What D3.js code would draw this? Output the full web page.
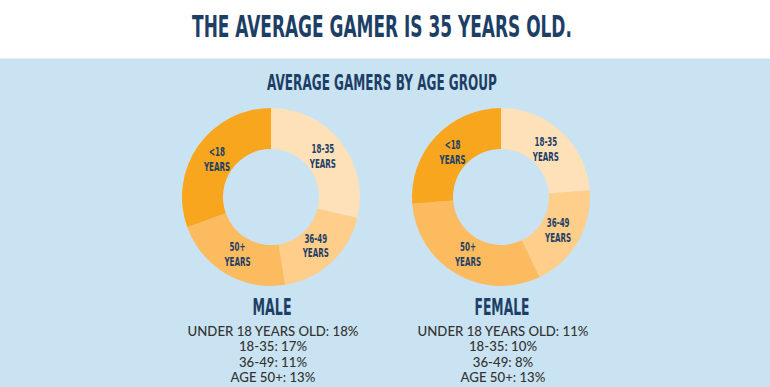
<!DOCTYPE html>
<html>
<head>
<meta charset="utf-8">
<script src="https://cdn.jsdelivr.net/npm/d3@7"></script>
<style>
  body { margin: 0; background: #fff; }
  svg { display: block; }
</style>
</head>
<body>
<svg id="chart"></svg>
<script>
var width = 770, height = 387;

var title = "THE AVERAGE GAMER IS 35 YEARS OLD.";
var subtitle = "AVERAGE GAMERS BY AGE GROUP";

// slice order clockwise from 12 o'clock
var age_groups = ["18-35", "36-49", "50+", "<18"];
var age_labels = [["18-35", "YEARS"], ["36-49", "YEARS"], ["50+", "YEARS"], ["<18", "YEARS"]];
var male_values = [17, 11, 13, 18];
var female_values = [10, 8, 13, 11];
var slice_colors = ["#fee1b8", "#fece8a", "#fdbb5f", "#f7a61e"];

var male_lines = ["UNDER 18 YEARS OLD: 18%", "18-35: 17%", "36-49: 11%", "AGE 50+: 13%"];
var female_lines = ["UNDER 18 YEARS OLD: 11%", "18-35: 10%", "36-49: 8%", "AGE 50+: 13%"];

var head_font = "'DejaVu Sans Condensed', 'Liberation Sans Narrow', sans-serif";
var body_font = "Lato, 'Open Sans', sans-serif";
var navy = "#1d3f66";

var svg = d3.select("#chart")
    .attr("width", width)
    .attr("height", height);

svg.append("rect")
    .attr("width", width)
    .attr("height", height)
    .attr("fill", "#ffffff");

svg.append("rect")
    .attr("y", 59)
    .attr("width", width)
    .attr("height", height - 59)
    .attr("fill", "#cae3f2");

svg.append("line")
    .attr("x1", 0).attr("x2", width)
    .attr("y1", 58.5).attr("y2", 58.5)
    .attr("stroke", "#e3eff7");

// condensed headline text: draw at the origin, then squeeze it to a target width
function headline(x, y, size, txt, target) {
    var t = svg.append("text")
        .attr("text-anchor", "middle")
        .style("font-family", head_font)
        .style("font-weight", "bold")
        .style("font-size", size + "px")
        .style("fill", navy)
        .text(txt);
    var w = t.node().getComputedTextLength();
    t.attr("transform", "translate(" + x + "," + y + ") scale(" + (target / w) + ",1)");
    return t;
}

headline(382, 37, 30, title, 380);
headline(382, 90, 20.5, subtitle, 230);

var pie = d3.pie().sort(null).value(d => d);
var arc = d3.arc().innerRadius(48).outerRadius(89);
var label_arc = d3.arc().innerRadius(66).outerRadius(66);
var cs = d3.scaleOrdinal().domain(age_groups).range(slice_colors);

function draw_donut(cx, values, name, name_width, lines) {
    var g = svg.append("g")
        .attr("transform", "translate(" + cx + ",197)");

    var slices = pie(values);

    g.selectAll("path")
        .data(slices)
        .enter()
        .append("path")
            .attr("d", arc)
            .attr("fill", (d, i) => cs(age_groups[i]));

    var labels = g.selectAll(".lbl")
        .data(slices)
        .enter()
        .append("text")
            .attr("class", "lbl")
            .attr("transform", d => "translate(" + label_arc.centroid(d) + ") scale(0.62,1)")
            .attr("text-anchor", "middle")
            .style("font-family", head_font)
            .style("font-weight", "bold")
            .style("font-size", "12.8px")
            .style("fill", navy);

    labels.selectAll("tspan")
        .data((d, i) => age_labels[i])
        .enter()
        .append("tspan")
            .attr("x", 0)
            .attr("y", (d, j) => j == 0 ? -3 : 12)
            .text(d => d);

    headline(cx + 1, 315, 23, name, name_width);

    svg.append("g")
        .selectAll("text")
        .data(lines)
        .enter()
        .append("text")
            .attr("x", cx + 2)
            .attr("y", (d, i) => 335.5 + i * 15.6)
            .attr("text-anchor", "middle")
            .style("font-family", body_font)
            .style("font-size", "13.2px")
            .style("font-weight", 500)
            .style("fill", "#333333")
            .text(d => d);
}

draw_donut(271, male_values, "MALE", 39, male_lines);
draw_donut(501, female_values, "FEMALE", 55, female_lines);
</script>
</body>
</html>
